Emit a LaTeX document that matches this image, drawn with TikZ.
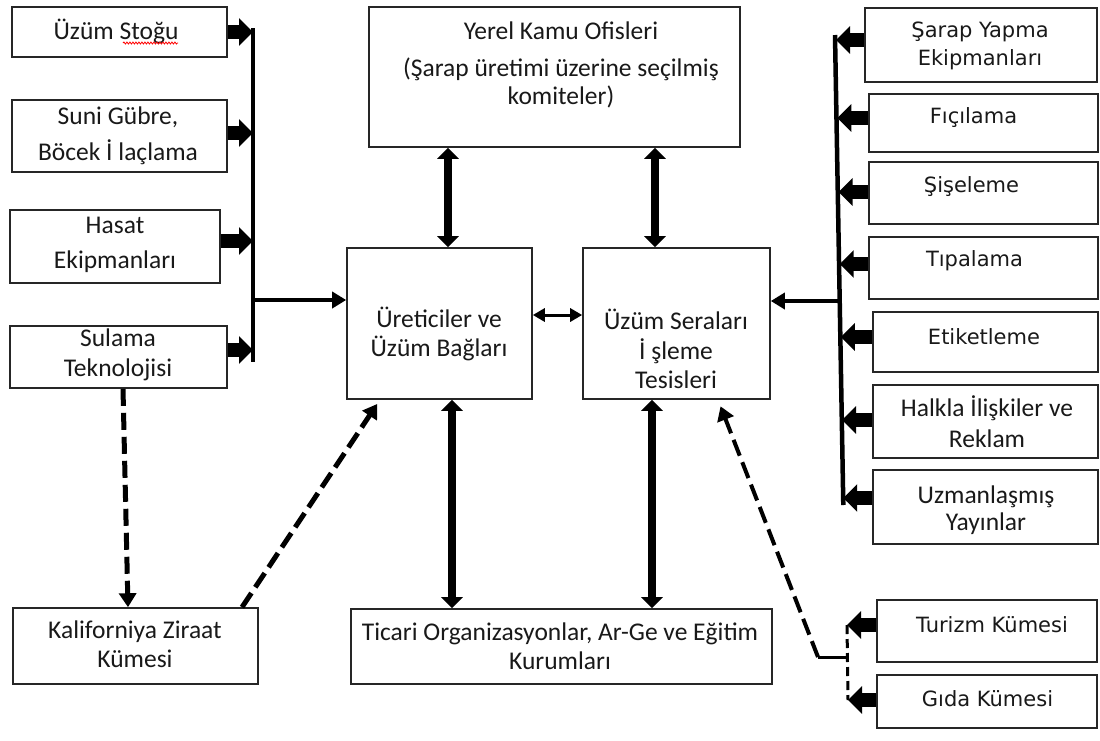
\documentclass[tikz,border=0pt]{standalone}
\usepackage{fontspec}
\setmainfont{Carlito}
\newfontfamily\tahfont{DejaVu Sans}
\usetikzlibrary{arrows.meta,calc,decorations.pathmorphing}

\begin{document}
\begin{tikzpicture}[x=1pt,y=-1pt,
  box/.style={draw=black!85, line width=1.6pt, fill=white, inner sep=0pt},
  txt/.style={align=center, inner sep=0pt, text=black!90, font=\fontsize{25.5}{29.5}\selectfont},
  txtwide/.style={txt, font=\fontsize{25.5}{35.5}\selectfont},
  tah/.style={align=center, inner sep=0pt, text=black!90, font=\tahfont\fontsize{21}{28}\selectfont},
  fat/.style={line width=14pt, -{Triangle[length=14pt,width=27pt]}},
  dbl/.style={line width=8.5pt, {Triangle[length=11pt,width=21pt]}-{Triangle[length=11pt,width=21pt]}},
  trunk/.style={line width=4.5pt},
  feed/.style={line width=4pt, -{Triangle[length=14pt,width=16pt]}},
  link/.style={line width=3pt, {Triangle[length=12pt,width=13pt]}-{Triangle[length=12pt,width=13pt]}},
  dashlink/.style={line width=5pt, dash pattern=on 17pt off 7pt, -{Triangle[length=14pt,width=17pt]}},
  thinlink/.style={line width=3pt},
  thindash/.style={line width=3pt, dash pattern=on 9pt off 5pt}
]
\fill[white] (0,0) rectangle (1100,740);
\useasboundingbox (0,0) rectangle (1100,740);

% left column: inputs to the growers
\node[box, minimum width=215pt, minimum height=50pt] (stok)   at (119.5,32) {};
\node[box, minimum width=215pt, minimum height=72pt] (gubre)  at (119.5,136) {};
\node[box, minimum width=210pt, minimum height=73pt] (hasat)  at (115,246.5) {};
\node[box, minimum width=217pt, minimum height=62pt] (sulama) at (118.5,357) {};
\node[txt] (stokT) at (116,31) {Üzüm Stoğu};
\node[txtwide] (gubreT) at (118,136) {Suni Gübre,\\Böcek İ laçlama};
\node[txtwide] (hasatT) at (115,245) {Hasat\\Ekipmanları};
\node[txt] (sulamaT) at (118,355) {Sulama\\Teknolojisi};
\draw[red, line width=0.8pt, decorate, decoration={snake, amplitude=1pt, segment length=3pt}] (123,43) -- (178,43);

% centre blocks
\node[box, minimum width=371pt, minimum height=140pt] (yerel) at (554.5,77) {};
\node[txt, font=\fontsize{25.5}{28}\selectfont] (yerelT) at (561,65) {Yerel Kamu Ofisleri\\[9pt](Şarap üretimi üzerine seçilmiş\\komiteler)};
\node[box, minimum width=185pt, minimum height=151pt] (uret) at (439.5,323.5) {};
\node[txt] (uretT) at (439,334) {Üreticiler ve\\Üzüm Bağları};
\node[box, minimum width=187pt, minimum height=151pt] (sera) at (676.5,323.5) {};
\node[txt] (seraT) at (676,349) {Üzüm Seraları\\İ şleme\\Tesisleri};
\node[box, minimum width=421pt, minimum height=75pt] (tic) at (561.5,646.5) {};
\node[txt] (ticT) at (560,646) {Ticari Organizasyonlar, Ar-Ge ve Eğitim\\Kurumları};
\node[box, minimum width=245pt, minimum height=76pt] (kalif) at (135.5,646) {};
\node[txt] (kalifT) at (135,644) {Kaliforniya Ziraat\\Kümesi};

% right column: suppliers of the processors
\node[box, minimum width=232pt, minimum height=74pt] (sarap) at (981,45) {};
\node[box, minimum width=229pt, minimum height=58pt] (fici)  at (983.5,123) {};
\node[box, minimum width=229pt, minimum height=62pt] (sise)  at (983.5,193) {};
\node[box, minimum width=229pt, minimum height=62pt] (tipa)  at (983.5,268) {};
\node[box, minimum width=225pt, minimum height=60pt] (etik)  at (985.5,342) {};
\node[box, minimum width=225pt, minimum height=73pt] (halk)  at (985.5,421.5) {};
\node[box, minimum width=225pt, minimum height=74pt] (uzm)   at (985.5,507) {};
\node[box, minimum width=220pt, minimum height=62pt] (tur)   at (987,631) {};
\node[box, minimum width=220pt, minimum height=53pt] (gida)  at (987,701.5) {};
\node[tah] (sarapT) at (980,46) {Şarap Yapma\\Ekipmanları};
\node[tah] (ficiT) at (973.5,118) {Fıçılama};
\node[tah] (siseT) at (971.5,187) {Şişeleme};
\node[tah] (tipaT) at (974.5,261) {Tıpalama};
\node[tah] (etikT) at (984,337) {Etiketleme};
\node[txt, font=\fontsize{25.5}{31}\selectfont] (halkT) at (987,422) {Halkla İlişkiler ve\\Reklam};
\node[txt, font=\fontsize{25.5}{27}\selectfont] (uzmT) at (986,510) {Uzmanlaşmış\\Yayınlar};
\node[tah] (turT) at (992,625) {Turizm Kümesi};
\node[tah] (gidaT) at (987.5,699) {Gıda Kümesi};

% left collector
\coordinate (l0) at (253,28);
\coordinate (l1) at (253,32);
\coordinate (l2) at (253,133);
\coordinate (l3) at (253,241);
\coordinate (l4) at (253,350);
\coordinate (l5) at (253,362);
\coordinate (lh) at (253,300);
\draw[trunk] (l0) -- (l5);
\draw[fat] (stok.east |- l1) -- (l1);
\draw[fat] (gubre.east |- l2) -- (l2);
\draw[fat] (hasat.east |- l3) -- (l3);
\draw[fat] (sulama.east |- l4) -- (l4);
\draw[feed] (lh) -- (lh -| uret.west);

% right collector
\coordinate (r0) at (835,35);
\coordinate (r1) at (836.1,40);
\coordinate (r2) at (837.3,118);
\coordinate (r3) at (838.5,192);
\coordinate (r4) at (839.7,264);
\coordinate (r5) at (840.9,337);
\coordinate (r6) at (842.0,420);
\coordinate (r7) at (843.2,498);
\coordinate (r8) at (843.3,505);
\coordinate (rh) at (839,301);
\draw[trunk] (r0) -- (r8);
\draw[fat] (sarap.west |- r1) -- (r1);
\draw[fat] (fici.west |- r2) -- (r2);
\draw[fat] (sise.west |- r3) -- (r3);
\draw[fat] (tipa.west |- r4) -- (r4);
\draw[fat] (etik.west |- r5) -- (r5);
\draw[fat] (halk.west |- r6) -- (r6);
\draw[fat] (uzm.west |- r7) -- (r7);
\draw[feed] (rh) -- (rh -| sera.east);

% two-way links in the centre
\draw[dbl] ([xshift=8.5pt]uret.north) -- ([xshift=8.5pt]uret.north |- yerel.south);
\draw[dbl] ([xshift=-21.5pt]sera.north) -- ([xshift=-21.5pt]sera.north |- yerel.south);
\draw[dbl] ([xshift=12.5pt]uret.south) -- ([xshift=12.5pt]uret.south |- tic.north);
\draw[dbl] ([xshift=-24.5pt]sera.south) -- ([xshift=-24.5pt]sera.south |- tic.north);
\draw[link] ([yshift=8.5pt]uret.east) -- ([yshift=8.5pt]sera.west);

% cluster links
\draw[dashlink] ([xshift=4.5pt]sulama.south) -- ([xshift=-7.5pt]kalif.north);
\draw[dashlink, shorten >=5pt] ([xshift=106.5pt]kalif.north) -- ([xshift=-59.5pt]uret.south);

\coordinate (cj) at (818,657);
\coordinate (ck) at (847,657);
\coordinate (cT) at (847,625);
\coordinate (cB) at (848,700);
\draw[dashlink, line width=4pt, shorten >=7pt] (cj) -- ([xshift=41.5pt]sera.south);
\draw[thinlink] (cj) -- (ck);
\draw[thindash] (cT) -- (cB);
\draw[fat] (tur.west |- cT) -- (cT);
\draw[fat] (gida.west |- cB) -- (cB);
\end{tikzpicture}
\end{document}
